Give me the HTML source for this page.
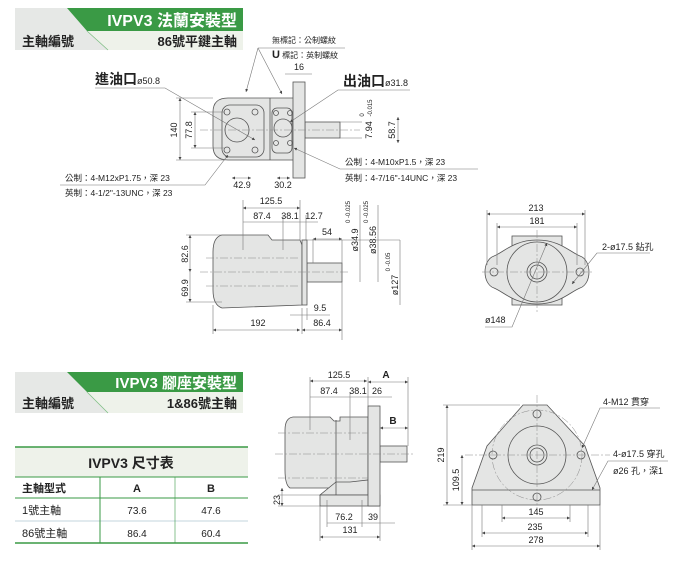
<!DOCTYPE html>
<html><head><meta charset="utf-8"><style>
body{margin:0;background:#fff;}
svg{display:block;font-family:"Liberation Sans","Noto Sans CJK TC",sans-serif;}
.s{stroke:#555;stroke-width:0.8;fill:none}
.b{stroke:#555;stroke-width:0.8;fill:#e4e5e4}
.d{stroke:#777;stroke-width:0.6;fill:none}
.c{stroke:#888;stroke-width:0.5;fill:none;stroke-dasharray:8 2 2 2}
text{fill:#222}
.t{font-size:9px}
</style></head><body>
<svg width="700" height="569" viewBox="0 0 700 569" xmlns="http://www.w3.org/2000/svg">
<defs><marker id="a" viewBox="0 0 6 6" refX="6" refY="3" markerWidth="5" markerHeight="5" orient="auto-start-reverse"><path d="M0,0L6,3L0,6z" fill="#444"/></marker></defs>

<rect x="15" y="8" width="228" height="42" fill="#e6e8e6"/>
<polygon points="87,31 243,31 243,50 108,50" fill="#eef2ea"/>
<polygon points="67,8 243,8 243,31 87,31" fill="#3a9a45"/>
<line x1="87" y1="31" x2="108" y2="50" stroke="#7fbf85" stroke-width="0.8"/>
<text x="237" y="26" text-anchor="end" font-size="16" font-weight="bold" style="fill:#fff">IVPV3 法蘭安裝型</text>
<text x="22" y="46" font-size="13" font-weight="bold">主軸編號</text>
<text x="237" y="46" text-anchor="end" font-size="13" font-weight="bold">86號平鍵主軸</text>

<rect x="15" y="372" width="228" height="41" fill="#e6e8e6"/>
<polygon points="87,392 243,392 243,413 108,413" fill="#eef2ea"/>
<polygon points="67,372 243,372 243,392 87,392" fill="#3a9a45"/>
<line x1="87" y1="392" x2="108" y2="413" stroke="#7fbf85" stroke-width="0.8"/>
<text x="237" y="388" text-anchor="end" font-size="15" font-weight="bold" style="fill:#fff">IVPV3 腳座安裝型</text>
<text x="22" y="408" font-size="13" font-weight="bold">主軸編號</text>
<text x="237" y="408" text-anchor="end" font-size="13" font-weight="bold">1&amp;86號主軸</text>

<rect x="15" y="447" width="233" height="30" fill="#eef2ea"/>
<line x1="15" y1="447" x2="248" y2="447" stroke="#3a9a45" stroke-width="1.5"/>
<line x1="15" y1="477" x2="248" y2="477" stroke="#3a9a45" stroke-width="1"/>
<line x1="15" y1="498" x2="248" y2="498" stroke="#3a9a45" stroke-width="1"/>
<line x1="15" y1="521" x2="248" y2="521" stroke="#8ab" stroke-width="0.6"/>
<line x1="15" y1="543" x2="248" y2="543" stroke="#3a9a45" stroke-width="1.5"/>
<line x1="100" y1="477" x2="100" y2="543" stroke="#3a9a45" stroke-width="1"/>
<line x1="175" y1="477" x2="175" y2="543" stroke="#3a9a45" stroke-width="0.6"/>
<text x="131" y="468" text-anchor="middle" font-size="14" font-weight="bold">IVPV3 尺寸表</text>
<text x="22" y="492" font-size="11" font-weight="bold">主軸型式</text>
<text x="137" y="492" text-anchor="middle" font-size="11" font-weight="bold">A</text>
<text x="211" y="492" text-anchor="middle" font-size="11" font-weight="bold">B</text>
<text x="22" y="514" font-size="11">1號主軸</text>
<text x="137" y="514" text-anchor="middle" font-size="10">73.6</text>
<text x="211" y="514" text-anchor="middle" font-size="10">47.6</text>
<text x="22" y="537" font-size="11">86號主軸</text>
<text x="137" y="537" text-anchor="middle" font-size="10">86.4</text>
<text x="211" y="537" text-anchor="middle" font-size="10">60.4</text>

<!-- TOP VIEW -->
<rect x="305" y="122" width="35" height="16" class="b"/>
<path d="M213,112 Q213,98 228,98 L295,98 L295,160 L228,160 Q213,160 213,146 Z" class="b"/>
<rect x="293" y="82" width="12" height="96" class="b"/>
<line x1="270" y1="98" x2="270" y2="160" class="s"/>
<rect x="222" y="105" width="42" height="52" rx="8" class="s"/>
<circle cx="237" cy="130" r="12" class="s"/>
<circle cx="227" cy="112" r="3" class="s"/><circle cx="255" cy="112" r="3" class="s"/>
<circle cx="227" cy="150" r="3" class="s"/><circle cx="255" cy="150" r="3" class="s"/>
<rect x="272" y="108" width="20" height="45" rx="5" class="s"/>
<circle cx="283" cy="128" r="9" class="s"/>
<circle cx="276" cy="113" r="2.5" class="s"/><circle cx="290" cy="113" r="2.5" class="s"/>
<circle cx="276" cy="143" r="2.5" class="s"/><circle cx="290" cy="143" r="2.5" class="s"/>
<line x1="200" y1="130" x2="360" y2="130" class="c"/>
<line x1="180" y1="98" x2="180" y2="160" class="d" marker-start="url(#a)" marker-end="url(#a)"/>
<line x1="176" y1="98" x2="213" y2="98" class="d"/><line x1="176" y1="160" x2="225" y2="160" class="d"/>
<text transform="translate(177,130) rotate(-90)" text-anchor="middle" class="t">140</text>
<line x1="195" y1="112" x2="195" y2="148" class="d" marker-start="url(#a)" marker-end="url(#a)"/>
<line x1="191" y1="112" x2="225" y2="112" class="d"/><line x1="191" y1="148" x2="225" y2="148" class="d"/>
<text transform="translate(192,130) rotate(-90)" text-anchor="middle" class="t">77.8</text>
<line x1="232" y1="178" x2="251" y2="178" class="d" marker-start="url(#a)" marker-end="url(#a)"/>
<text x="242" y="188" text-anchor="middle" class="t">42.9</text>
<line x1="277" y1="178" x2="290" y2="178" class="d" marker-start="url(#a)" marker-end="url(#a)"/>
<text x="283" y="188" text-anchor="middle" class="t">30.2</text>
<line x1="285" y1="74" x2="312" y2="74" class="d"/>
<text x="299" y="70" text-anchor="middle" class="t">16</text>
<line x1="340" y1="122" x2="362" y2="122" class="d"/><line x1="340" y1="138" x2="362" y2="138" class="d"/>
<text transform="translate(372,130) rotate(-90)" text-anchor="middle" class="t">7.94</text>
<text transform="translate(364,115) rotate(-90)" text-anchor="middle" font-size="6">0</text>
<text transform="translate(372,108) rotate(-90)" text-anchor="middle" font-size="6">-0.015</text>
<line x1="398" y1="117" x2="398" y2="143" class="d" marker-start="url(#a)" marker-end="url(#a)"/>
<text transform="translate(395,130) rotate(-90)" text-anchor="middle" class="t">58.7</text>
<text x="95" y="84" font-size="14" font-weight="bold">進油口<tspan font-size="9" font-weight="normal">ø50.8</tspan></text>
<polyline points="95,88 165,88 255,140" class="d" marker-end="url(#a)"/>
<text x="343" y="86" font-size="14" font-weight="bold">出油口<tspan font-size="9" font-weight="normal">ø31.8</tspan></text>
<polyline points="410,90 338,90 290,122" class="d" marker-end="url(#a)"/>
<text x="272" y="43" font-size="8">無標記：公制螺紋</text>
<text x="272" y="58" font-size="8"><tspan font-size="11" font-weight="bold">U</tspan> 標記：英制螺紋</text>
<line x1="258" y1="48" x2="345" y2="48" class="d"/>
<line x1="258" y1="48" x2="246" y2="92" class="d" marker-end="url(#a)"/>
<line x1="258" y1="48" x2="282" y2="94" class="d" marker-end="url(#a)"/>
<text x="65" y="181" font-size="8.5">公制：4-M12xP1.75，深 23</text>
<text x="65" y="196" font-size="8.5">英制：4-1/2"-13UNC，深 23</text>
<polyline points="60,185 205,185 228,155" class="d" marker-end="url(#a)"/>
<text x="345" y="165" font-size="8.5">公制：4-M10xP1.5，深 23</text>
<text x="345" y="181" font-size="8.5">英制：4-7/16"-14UNC，深 23</text>
<polyline points="478,169 340,169 294,148" class="d" marker-end="url(#a)"/>

<!-- MIDDLE SIDE VIEW -->
<rect x="307" y="263" width="35" height="19" class="b"/>
<path d="M222,235 L268,235 L272,240 L300,240 L302,245 L302,305 L222,308 Q213,305 213,290 L213,252 Q213,237 222,235 Z" class="b"/>
<rect x="302" y="240" width="5" height="65" class="b"/>
<line x1="200" y1="272" x2="350" y2="272" class="c"/>
<line x1="206" y1="258" x2="300" y2="258" class="c"/><line x1="206" y1="286" x2="300" y2="286" class="c"/>
<line x1="243" y1="200" x2="243" y2="250" class="d"/>
<line x1="283" y1="215" x2="283" y2="250" class="d"/>
<line x1="300" y1="200" x2="300" y2="240" class="d"/>
<line x1="306" y1="215" x2="306" y2="240" class="d"/>
<line x1="243" y1="208" x2="300" y2="208" class="d" marker-start="url(#a)" marker-end="url(#a)"/>
<text x="271" y="204" text-anchor="middle" class="t">125.5</text>
<line x1="243" y1="222" x2="318" y2="222" class="d"/>
<text x="262" y="219" text-anchor="middle" class="t">87.4</text>
<text x="290" y="219" text-anchor="middle" class="t">38.1</text>
<text x="314" y="219" text-anchor="middle" class="t">12.7</text>
<line x1="313" y1="239" x2="342" y2="239" class="d" marker-start="url(#a)" marker-end="url(#a)"/>
<text x="327" y="235" text-anchor="middle" class="t">54</text>
<line x1="342" y1="240" x2="342" y2="340" class="d"/>
<line x1="313" y1="239" x2="313" y2="263" class="d"/>
<line x1="360" y1="205" x2="360" y2="282" class="d"/>
<text transform="translate(358,240) rotate(-90)" text-anchor="middle" class="t">ø34.9</text>
<text transform="translate(350,212) rotate(-90)" text-anchor="middle" font-size="6">0 -0.025</text>
<line x1="378" y1="205" x2="378" y2="282" class="d"/>
<text transform="translate(376,240) rotate(-90)" text-anchor="middle" class="t">ø38.56</text>
<text transform="translate(368,212) rotate(-90)" text-anchor="middle" font-size="6">0 -0.025</text>
<line x1="307" y1="240" x2="400" y2="240" class="d"/>
<line x1="400" y1="240" x2="400" y2="305" class="d"/>
<text transform="translate(398,285) rotate(-90)" text-anchor="middle" class="t">ø127</text>
<text transform="translate(390,262) rotate(-90)" text-anchor="middle" font-size="6">0 -0.05</text>
<line x1="190" y1="235" x2="190" y2="272" class="d" marker-start="url(#a)" marker-end="url(#a)"/>
<line x1="190" y1="272" x2="190" y2="302" class="d" marker-end="url(#a)"/>
<line x1="186" y1="235" x2="222" y2="235" class="d"/><line x1="186" y1="302" x2="222" y2="302" class="d"/>
<text transform="translate(188,254) rotate(-90)" text-anchor="middle" class="t">82.6</text>
<text transform="translate(188,288) rotate(-90)" text-anchor="middle" class="t">69.9</text>
<line x1="213" y1="305" x2="213" y2="334" class="d"/><line x1="302" y1="308" x2="302" y2="334" class="d"/><line x1="307" y1="308" x2="307" y2="320" class="d"/>
<line x1="213" y1="330" x2="300" y2="330" class="d" marker-start="url(#a)" marker-end="url(#a)"/>
<text x="258" y="326" text-anchor="middle" class="t">192</text>
<line x1="302" y1="330" x2="342" y2="330" class="d" marker-start="url(#a)" marker-end="url(#a)"/>
<text x="322" y="326" text-anchor="middle" class="t">86.4</text>
<line x1="290" y1="315" x2="330" y2="315" class="d"/>
<text x="320" y="311" text-anchor="middle" class="t">9.5</text>

<!-- MIDDLE FRONT VIEW -->
<rect x="512" y="236" width="50" height="14" class="b"/>
<rect x="512" y="292" width="50" height="13" class="b"/>
<path d="M537,240 C560,240 570,252 580,256 C592,260 592,284 580,288 C570,292 560,304 537,304 C514,304 504,292 494,288 C482,284 482,260 494,256 C504,252 514,240 537,240 Z" class="b"/>
<circle cx="537" cy="272" r="30" class="s"/>
<circle cx="537" cy="272" r="10" class="s"/>
<circle cx="537" cy="272" r="7" class="s"/>
<circle cx="494" cy="272" r="4" class="s"/><circle cx="580" cy="272" r="4" class="s"/>
<line x1="482" y1="272" x2="592" y2="272" class="c"/><line x1="537" y1="230" x2="537" y2="312" class="c"/>
<line x1="487" y1="210" x2="487" y2="265" class="d"/><line x1="585" y1="210" x2="585" y2="265" class="d"/>
<line x1="497" y1="223" x2="497" y2="265" class="d"/><line x1="577" y1="223" x2="577" y2="265" class="d"/>
<line x1="487" y1="214" x2="585" y2="214" class="d" marker-start="url(#a)" marker-end="url(#a)"/>
<text x="536" y="211" text-anchor="middle" class="t">213</text>
<line x1="497" y1="227" x2="577" y2="227" class="d" marker-start="url(#a)" marker-end="url(#a)"/>
<text x="537" y="224" text-anchor="middle" class="t">181</text>
<text x="602" y="250" font-size="9">2-ø17.5 鉆孔</text>
<polyline points="650,253 597,253 572,284" class="d" marker-end="url(#a)"/>
<text x="485" y="323" class="t">ø148</text>
<polyline points="485,327 512,327 547,243" class="d" marker-end="url(#a)"/>

<!-- BOTTOM SIDE VIEW -->
<rect x="380" y="446" width="27" height="16" class="b"/>
<path d="M293,417 L330,417 L334,421 L340,421 L340,417 L368,417 L368,482 L360,488 L290,488 Q285,485 285,470 L285,430 Q285,418 293,417 Z" class="b"/>
<path d="M336,482 L350,482 L368,480 L368,495 L320,495 Z" class="b"/>
<rect x="320" y="495" width="60" height="11" class="b"/>
<rect x="368" y="406" width="12" height="100" class="b"/>
<line x1="336" y1="420" x2="336" y2="495" class="s"/>
<line x1="275" y1="454" x2="415" y2="454" class="c"/>
<line x1="278" y1="433" x2="368" y2="433" class="c"/><line x1="278" y1="478" x2="368" y2="478" class="c"/>
<line x1="310" y1="377" x2="310" y2="430" class="d"/><line x1="350" y1="392" x2="350" y2="440" class="d"/>
<line x1="368" y1="377" x2="368" y2="406" class="d"/><line x1="408" y1="377" x2="408" y2="446" class="d"/>
<line x1="310" y1="381" x2="367" y2="381" class="d" marker-start="url(#a)" marker-end="url(#a)"/>
<text x="339" y="378" text-anchor="middle" class="t">125.5</text>
<line x1="368" y1="382" x2="408" y2="382" class="d" marker-start="url(#a)" marker-end="url(#a)"/>
<text x="386" y="378" text-anchor="middle" font-size="10" font-weight="bold">A</text>
<line x1="310" y1="397" x2="392" y2="397" class="d"/>
<text x="329" y="394" text-anchor="middle" class="t">87.4</text>
<text x="358" y="394" text-anchor="middle" class="t">38.1</text>
<text x="377" y="394" text-anchor="middle" class="t">26</text>
<line x1="380" y1="428" x2="408" y2="428" class="d" marker-start="url(#a)" marker-end="url(#a)"/>
<text x="393" y="424" text-anchor="middle" font-size="10" font-weight="bold">B</text>
<line x1="282" y1="488" x2="282" y2="506" class="d" marker-start="url(#a)" marker-end="url(#a)"/>
<line x1="278" y1="495" x2="320" y2="495" class="d"/><line x1="278" y1="506" x2="320" y2="506" class="d"/>
<text transform="translate(280,500) rotate(-90)" text-anchor="middle" class="t">23</text>
<line x1="320" y1="506" x2="320" y2="541" class="d"/><line x1="380" y1="506" x2="380" y2="541" class="d"/>
<line x1="327" y1="500" x2="327" y2="527" class="d"/><line x1="362" y1="500" x2="362" y2="527" class="d"/>
<line x1="327" y1="523" x2="395" y2="523" class="d"/>
<text x="344" y="520" text-anchor="middle" class="t">76.2</text>
<text x="373" y="520" text-anchor="middle" class="t">39</text>
<line x1="320" y1="537" x2="380" y2="537" class="d" marker-start="url(#a)" marker-end="url(#a)"/>
<text x="350" y="533" text-anchor="middle" class="t">131</text>

<!-- BOTTOM FRONT VIEW -->
<path d="M523,405 L547,405 L585,446 L600,488 L600,505 L472,505 L472,488 L487,446 Z" class="b"/>
<line x1="472" y1="490" x2="600" y2="490" class="s"/>
<circle cx="537" cy="455" r="45" class="c"/>
<circle cx="537" cy="455" r="29" class="s"/>
<circle cx="537" cy="455" r="10" class="s"/>
<circle cx="537" cy="455" r="7" class="s"/>
<circle cx="537" cy="414" r="4" class="s"/><circle cx="493" cy="455" r="4" class="s"/>
<circle cx="581" cy="455" r="4" class="s"/><circle cx="537" cy="497" r="4" class="s"/>
<line x1="465" y1="455" x2="610" y2="455" class="c"/><line x1="537" y1="395" x2="537" y2="512" class="c"/>
<line x1="443" y1="405" x2="520" y2="405" class="d"/><line x1="443" y1="505" x2="472" y2="505" class="d"/>
<line x1="447" y1="405" x2="447" y2="505" class="d" marker-start="url(#a)" marker-end="url(#a)"/>
<text transform="translate(444,455) rotate(-90)" text-anchor="middle" class="t">219</text>
<line x1="462" y1="455" x2="462" y2="505" class="d" marker-start="url(#a)" marker-end="url(#a)"/>
<text transform="translate(459,480) rotate(-90)" text-anchor="middle" class="t">109.5</text>
<line x1="472" y1="505" x2="472" y2="550" class="d"/><line x1="600" y1="505" x2="600" y2="550" class="d"/>
<line x1="482" y1="505" x2="482" y2="537" class="d"/><line x1="588" y1="505" x2="588" y2="537" class="d"/>
<line x1="502" y1="505" x2="502" y2="522" class="d"/><line x1="570" y1="505" x2="570" y2="522" class="d"/>
<line x1="502" y1="518" x2="570" y2="518" class="d" marker-start="url(#a)" marker-end="url(#a)"/>
<text x="536" y="515" text-anchor="middle" class="t">145</text>
<line x1="482" y1="533" x2="588" y2="533" class="d" marker-start="url(#a)" marker-end="url(#a)"/>
<text x="535" y="530" text-anchor="middle" class="t">235</text>
<line x1="472" y1="546" x2="600" y2="546" class="d" marker-start="url(#a)" marker-end="url(#a)"/>
<text x="536" y="543" text-anchor="middle" class="t">278</text>
<text x="603" y="405" font-size="9">4-M12 貫穿</text>
<polyline points="660,408 600,408 582,448" class="d" marker-end="url(#a)"/>
<text x="613" y="457" font-size="9">4-ø17.5 穿孔</text>
<text x="613" y="474" font-size="9">ø26 孔，深1</text>
<polyline points="668,461 608,461 592,490" class="d" marker-end="url(#a)"/>
</svg>
</body></html>
